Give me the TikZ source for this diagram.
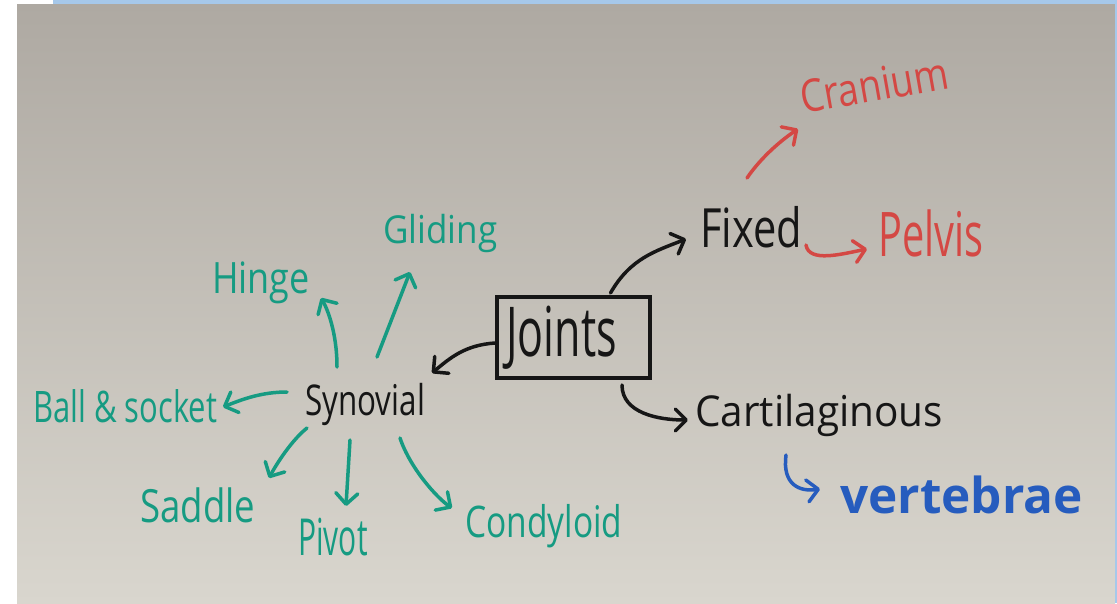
\documentclass[tikz,border=0pt]{standalone}
\usepackage{fontspec}
\usepackage{graphicx}
\setmainfont{Open Sans}
\usetikzlibrary{arrows.meta,calc}
\definecolor{board1}{RGB}{174,169,162}
\definecolor{board2}{RGB}{217,214,206}
\definecolor{frameblue}{RGB}{166,200,234}
\definecolor{pen}{RGB}{22,22,22}
\definecolor{teal}{RGB}{22,155,130}
\definecolor{pred}{RGB}{212,72,68}
\definecolor{pblue}{RGB}{38,92,190}
\newcommand\hwtext[3]{\fontsize{#1}{#1}\selectfont\scalebox{1}[#2]{#3}}
\tikzset{
  lbl/.style={inner sep=0pt, anchor=base west},
  arr/.style={line width=3.5pt, line cap=round, line join=round,
    -{Straight Barb[length=11pt,width=22pt,round]}},
}
\begin{document}
\begin{tikzpicture}[x=1pt,y=-1pt]
\useasboundingbox (0,0) rectangle (1117,603);
% photo frame
\fill[white] (0,0) rectangle (1117,603);
\shade[top color=board1, bottom color=board2] (17,4) rectangle (1115,603);
\fill[frameblue] (53,0) rectangle (1117,4);
\fill[frameblue] (1115,0) rectangle (1117,603);

% nodes
\node[draw=pen, line width=4pt, minimum width=153pt, minimum height=81pt, inner sep=0pt, text=pen]
  (joints) at (573.5,337.5) {\hwtext{43}{1.6}{Joints}\hspace*{24pt}};
\node[lbl, text=pen] (fixed) at (700,247) {\hwtext{41.6}{1.3}{Fixed}};
\node[lbl, text=pred] (pelvis) at (878,256) {\hwtext{39.7}{1.55}{Pelvis}};
\node[lbl, text=pred, rotate=10] (cranium) at (803,114) {\hwtext{37.5}{1.2}{Cranium}};
\node[lbl, text=pen] (cart) at (695,426) {\hwtext{40.5}{1.05}{Cartilaginous}};
\node[lbl, text=pblue] (vert) at (840,513) {\hwtext{49.5}{1.0}{\bfseries vertebrae}};
\node[lbl, text=pen] (syn) at (305,415) {\hwtext{31.4}{1.35}{Synovial}};
\node[lbl, text=teal] (hinge) at (212,293) {\hwtext{36}{1.2}{Hinge}};
\node[lbl, text=teal] (glid) at (383,243) {\hwtext{35}{1.1}{Gliding}};
\node[lbl, text=teal] (ball) at (33,422) {\hwtext{31}{1.4}{Ball \& socket}};
\node[lbl, text=teal] (saddle) at (140,522) {\hwtext{36.6}{1.25}{Saddle}};
\node[lbl, text=teal] (pivot) at (298,555) {\hwtext{30}{1.7}{Pivot}};
\node[lbl, text=teal] (condy) at (465,537) {\hwtext{33.5}{1.3}{Condyloid}};

% black connectors
\draw[arr, pen] ($(joints.north)+(37,-2)$) .. controls +(20,-35) and +(-30,12) .. ($(fixed.base west)+(-14,-8)$);
\draw[arr, pen] ($(joints.south)+(48.5,5)$) .. controls +(0,28) and +(-30,0) .. ($(cart.base west)+(-7,-6)$);
\draw[arr, pen] ($(joints.west)+(0,5.5)$) .. controls +(-30,2) and +(18,-15) .. ($(syn.base west)+(127,-42)$);
% red connectors
\draw[arr, pred] ($(fixed.base west)+(47,-69)$) .. controls +(15,-22) and +(-15,10) .. ($(cranium.base west)+(-5,15)$);
\draw[arr, pred] ($(fixed.base west)+(106,-2)$) .. controls +(3,18) and +(-25,5) .. ($(pelvis.base west)+(-11,-7)$);
% blue connector
\draw[arr, pblue] ($(cart.base west)+(91,29)$) .. controls +(-4,30) and +(-20,3) .. ($(vert.base west)+(-20,-24)$);
% green connectors
\draw[arr, teal] ($(syn.base west)+(32,-48)$) .. controls +(0,-35) and +(6,10) .. ($(hinge.base west)+(109,5)$);
\draw[arr, teal] ($(syn.base west)+(72,-58)$) -- ($(glid.base west)+(27,29)$);
\draw[arr, teal] ($(syn.base west)+(-18,-23)$) .. controls +(-25,0) and +(20,-8) .. ($(ball.base west)+(190,-15)$);
\draw[arr, teal] ($(syn.base west)+(2,13)$) .. controls +(-15,12) and +(8,-15) .. ($(saddle.base west)+(129,-44)$);
\draw[arr, teal] ($(syn.base west)+(45,25)$) -- ($(pivot.base west)+(48,-49)$);
\draw[arr, teal] ($(syn.base west)+(95,23)$) .. controls +(10,30) and +(-15,-10) .. ($(condy.base west)+(-13,-29)$);
\end{tikzpicture}
\end{document}
